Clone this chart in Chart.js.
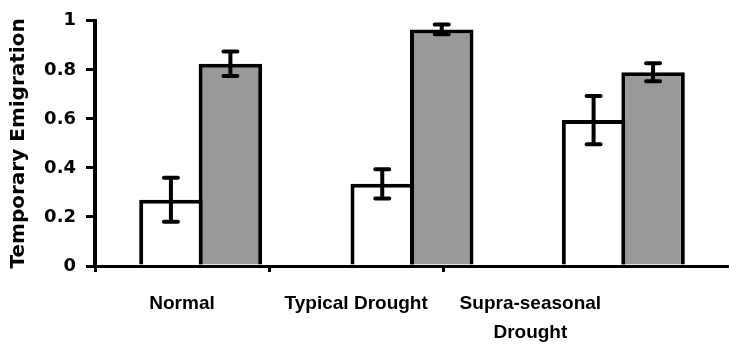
<!DOCTYPE html>
<html>
<head>
<meta charset="utf-8">
<script src="https://cdn.jsdelivr.net/npm/chart.js@4.4.1/dist/chart.umd.min.js"></script>
<style>
  html, body { margin: 0; padding: 0; background: #fff; }
  #wrap { width: 729px; height: 349px; position: relative; }
</style>
</head>
<body>
<div id="wrap"><canvas id="chart"></canvas></div>
<script>
// Data
const categories = ['Normal', 'Typical Drought', ['Supra-seasonal', 'Drought']];
const openValues = [0.27, 0.335, 0.595];
const openErrors = [0.09, 0.06, 0.098];
const greyValues = [0.825, 0.965, 0.79];
const greyErrors = [0.05, 0.02, 0.037];
const yTicks = [0, 0.2, 0.4, 0.6, 0.8, 1];

// Error bars drawn on top of the bars
const errorBars = {
    id: 'errorBars',
    afterDatasetsDraw(chart) {
        const ctx = chart.ctx;
        const y = chart.scales.y;
        ctx.save();
        ctx.strokeStyle = '#000';
        ctx.lineWidth = 4;
        ctx.lineCap = 'round';
        chart.data.datasets.forEach((ds, i) => {
            const meta = chart.getDatasetMeta(i);
            meta.data.forEach((bar, j) => {
                const v = ds.data[j];
                const e = ds.errors[j];
                const top = y.getPixelForValue(v + e);
                const bot = y.getPixelForValue(v - e);
                const x = bar.x;
                ctx.beginPath();
                ctx.moveTo(x, top);
                ctx.lineTo(x, bot);
                ctx.moveTo(x - 7, top);
                ctx.lineTo(x + 7, top);
                ctx.moveTo(x - 7, bot);
                ctx.lineTo(x + 7, bot);
                ctx.stroke();
            });
        });
        ctx.restore();
    }
};

new Chart(document.getElementById('chart'), {
    type: 'bar',
    data: {
        labels: categories,
        datasets: [
            {
                data: openValues,
                errors: openErrors,
                backgroundColor: '#ffffff',
                borderColor: '#000000',
                borderWidth: 4
            },
            {
                data: greyValues,
                errors: greyErrors,
                backgroundColor: '#999999',
                borderColor: '#000000',
                borderWidth: 4
            }
        ]
    },
    options: {
        responsive: true,
        maintainAspectRatio: false,
        animation: false,
        categoryPercentage: 0.563,
        barPercentage: 1.067,
        layout: { padding: { top: 16, right: 0, left: 0, bottom: 0 } },
        plugins: {
            legend: { display: false },
            tooltip: { enabled: false }
        },
        scales: {
            x: {
                display: false
            },
            // label axis: ticks at category boundaries, names shifted to the middle
            x2: {
                type: 'linear',
                position: 'bottom',
                offset: false,
                min: 0,
                max: 3.64,
                afterBuildTicks: (scale) => {
                    scale.ticks = [{ value: 0 }, { value: 1 }, { value: 2 }];
                },
                afterFit: (scale) => { scale.height = 83; },
                border: { display: true, color: '#000', width: 3 },
                grid: {
                    offset: false,
                    drawOnChartArea: false,
                    drawTicks: true,
                    tickLength: 6,
                    color: '#000',
                    lineWidth: 3
                },
                ticks: {
                    autoSkip: false,
                    maxRotation: 0,
                    labelOffset: 87,
                    padding: 17,
                    color: '#000',
                    font: { family: 'Liberation Sans, Arial, sans-serif', size: 19, weight: 'bold', lineHeight: 1.55 },
                    callback: (value, index) => categories[index]
                }
            },
            y: {
                min: 0,
                max: 1,
                afterBuildTicks: (scale) => {
                    scale.ticks = yTicks.map(v => ({ value: v }));
                },
                afterFit: (scale) => { scale.width = 95; },
                border: { display: true, color: '#000', width: 4 },
                grid: {
                    drawOnChartArea: false,
                    drawTicks: true,
                    tickLength: 9,
                    color: '#000',
                    lineWidth: 3
                },
                ticks: {
                    padding: 10,
                    color: '#000',
                    font: { family: 'DejaVu Sans, sans-serif', size: 18, weight: 'bold' },
                    callback: (value) => String(value)
                },
                title: {
                    display: true,
                    text: 'Temporary Emigration',
                    color: '#000',
                    padding: 7,
                    font: { family: 'DejaVu Sans, sans-serif', size: 20, weight: 'bold' }
                }
            }
        }
    },
    plugins: [errorBars]
});
</script>
</body>
</html>
